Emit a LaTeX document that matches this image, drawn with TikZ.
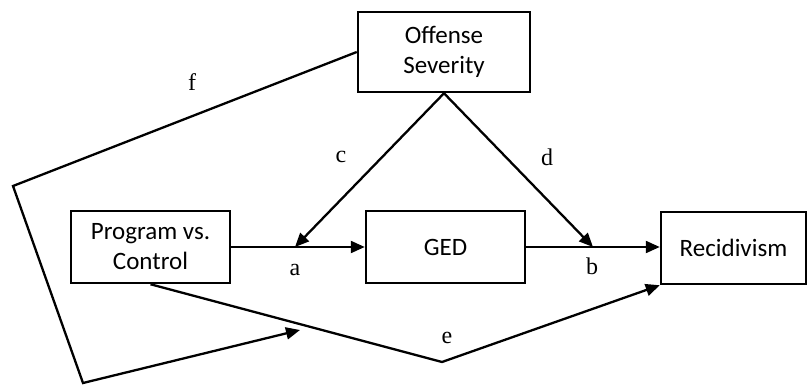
\documentclass[tikz,border=0pt]{standalone}
\usepackage{fontspec}
\setmainfont{Liberation Serif}
\newfontfamily\boxfont{Carlito}
\usetikzlibrary{arrows.meta}

\begin{document}
\begin{tikzpicture}[x=1pt,y=-1pt,
  varbox/.style={draw, line width=2.5pt, inner sep=0pt, align=center,
    font=\boxfont\fontsize{25}{30}\selectfont},
  path/.style={line width=2.3pt, line join=miter},
  arr/.style={path, -{Triangle[length=14pt,width=12pt]}},
  lbl/.style={font=\fontsize{24}{28}\selectfont, inner sep=0pt}]
  \useasboundingbox (0,0) rectangle (807,385);

  % variables
  \node[varbox, minimum width=172pt, minimum height=80pt] (off) at (444,52) {Offense\\Severity};
  \node[varbox, minimum width=159pt, minimum height=72pt] (prog) at (150.5,247) {Program vs.\\Control};
  \node[varbox, minimum width=159pt, minimum height=72pt] (ged) at (445.5,247) {GED};
  \node[varbox, minimum width=145pt, minimum height=72pt] (rec) at (733.5,248) {Recidivism};

  % points where moderation arrows land on the paths
  \coordinate (cpt) at (295,247);
  \coordinate (dpt) at (593,247);
  \coordinate (ebend) at (442,362);
  \coordinate (fbend1) at (13,186);
  \coordinate (fbend2) at (83,383);
  \coordinate (fend) at (300,330);

  % direct paths
  \draw[arr] (prog.east) -- (ged.west);
  \draw[arr] (ged.east) -- (rec.west |- ged.east);
  \draw[arr] (off.south) -- (cpt);
  \draw[arr] (off.south) -- (dpt);
  \draw[arr] (prog.south) -- (ebend) -- (rec.south west);
  \draw[arr] (off.west) -- (fbend1) -- (fbend2) -- (fend);

  % path labels
  \node[lbl] (la) at (295,270) {a};
  \node[lbl] (lb) at (592,266) {b};
  \node[lbl] (lc) at (341,157) {c};
  \node[lbl] (ld) at (547,157) {d};
  \node[lbl] (le) at (447,338) {e};
  \node[lbl] (lf) at (192,82) {f};
\end{tikzpicture}
\end{document}
